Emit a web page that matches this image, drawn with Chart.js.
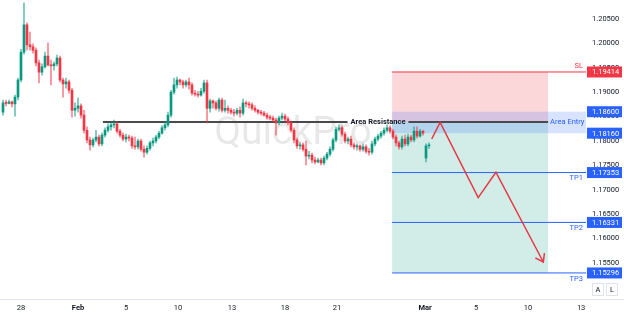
<!DOCTYPE html>
<html lang="en">

<head>
    <meta charset="UTF-8">
    <meta name="viewport" content="width=device-width, initial-scale=1.0">
    <title>EURUSD 4H - Area Resistance short</title>
    <script src="https://cdn.jsdelivr.net/npm/chart.js@4"></script>
    <style>
        html, body { margin: 0; padding: 0; background: #fff; }
    </style>
</head>

<body>
    <canvas id="myChart" width="624" height="316"></canvas>
    <script>
        // 4H candles, bar index 0 = first candle on the left
        const openS = [
            1.1859, 1.1878, 1.1877, 1.1880, 1.1876, 1.1890, 1.1925, 1.1982, 1.2038, 1.1997,
            1.1993, 1.1986, 1.1960, 1.1941, 1.1952, 1.1974, 1.1956, 1.1954, 1.1958, 1.1970,
            1.1925, 1.1917, 1.1921, 1.1904, 1.1863, 1.1867, 1.1872, 1.1853, 1.1822, 1.1802,
            1.1792, 1.1802, 1.1808, 1.1794, 1.1812, 1.1822, 1.1829, 1.1833, 1.1835, 1.1820,
            1.1812, 1.1804, 1.1808, 1.1806, 1.1790, 1.1788, 1.1800, 1.1783, 1.1777, 1.1785,
            1.1796, 1.1800, 1.1808, 1.1816, 1.1827, 1.1833, 1.1853, 1.1900, 1.1915, 1.1925,
            1.1921, 1.1915, 1.1921, 1.1915, 1.1898, 1.1896, 1.1894, 1.1902, 1.1919, 1.1867,
            1.1882, 1.1878, 1.1867, 1.1884, 1.1863, 1.1867, 1.1863, 1.1859, 1.1857, 1.1863,
            1.1857, 1.1878, 1.1876, 1.1874, 1.1867, 1.1863, 1.1859, 1.1857, 1.1853, 1.1849,
            1.1847, 1.1843, 1.1837, 1.1847, 1.1851, 1.1845, 1.1837, 1.1822, 1.1802, 1.1790,
            1.1792, 1.1783, 1.1769, 1.1771, 1.1761, 1.1757, 1.1761, 1.1755, 1.1765, 1.1773,
            1.1783, 1.1802, 1.1824, 1.1827, 1.1814, 1.1800, 1.1804, 1.1792, 1.1788, 1.1790,
            1.1783, 1.1788, 1.1779, 1.1777, 1.1794, 1.1804, 1.1810, 1.1816, 1.1822, 1.1827,
            1.1820, 1.1808, 1.1796, 1.1788, 1.1804, 1.1794, 1.1808, 1.1802, 1.1820, 1.1810,
            1.1820, 1.1765, 1.1790
        ];
        const highS = [
            1.1884, 1.1884, 1.1884, 1.1882, 1.1894, 1.1929, 1.1988, 1.2083, 1.2042, 1.2023,
            1.1999, 1.1991, 1.1966, 1.1958, 1.1982, 1.2001, 1.1966, 1.1962, 1.1976, 1.1974,
            1.1929, 1.1929, 1.1925, 1.1908, 1.1878, 1.1888, 1.1876, 1.1863, 1.1829, 1.1808,
            1.1806, 1.1822, 1.1812, 1.1816, 1.1827, 1.1835, 1.1837, 1.1843, 1.1839, 1.1824,
            1.1816, 1.1814, 1.1812, 1.1810, 1.1808, 1.1804, 1.1804, 1.1790, 1.1790, 1.1800,
            1.1806, 1.1812, 1.1820, 1.1831, 1.1839, 1.1859, 1.1904, 1.1929, 1.1931, 1.1927,
            1.1925, 1.1925, 1.1929, 1.1919, 1.1904, 1.1902, 1.1908, 1.1925, 1.1925, 1.1886,
            1.1884, 1.1882, 1.1888, 1.1888, 1.1884, 1.1872, 1.1867, 1.1865, 1.1867, 1.1870,
            1.1886, 1.1882, 1.1880, 1.1878, 1.1872, 1.1865, 1.1863, 1.1861, 1.1857, 1.1853,
            1.1851, 1.1847, 1.1851, 1.1857, 1.1855, 1.1849, 1.1841, 1.1827, 1.1806, 1.1798,
            1.1796, 1.1800, 1.1779, 1.1775, 1.1767, 1.1765, 1.1765, 1.1769, 1.1777, 1.1788,
            1.1806, 1.1829, 1.1833, 1.1831, 1.1818, 1.1808, 1.1810, 1.1796, 1.1794, 1.1792,
            1.1794, 1.1792, 1.1785, 1.1800, 1.1808, 1.1814, 1.1820, 1.1827, 1.1833, 1.1831,
            1.1824, 1.1812, 1.1800, 1.1810, 1.1812, 1.1814, 1.1812, 1.1829, 1.1829, 1.1824,
            1.1822, 1.1794, 1.1796
        ];
        const lowS = [
            1.1853, 1.1872, 1.1876, 1.1870, 1.1851, 1.1884, 1.1921, 1.1978, 1.1986, 1.1986,
            1.1980, 1.1954, 1.1919, 1.1935, 1.1949, 1.1954, 1.1915, 1.1945, 1.1954, 1.1921,
            1.1890, 1.1908, 1.1898, 1.1849, 1.1851, 1.1859, 1.1847, 1.1816, 1.1796, 1.1781,
            1.1788, 1.1798, 1.1790, 1.1790, 1.1808, 1.1818, 1.1822, 1.1827, 1.1816, 1.1808,
            1.1800, 1.1798, 1.1800, 1.1785, 1.1783, 1.1783, 1.1779, 1.1767, 1.1773, 1.1781,
            1.1790, 1.1796, 1.1804, 1.1814, 1.1822, 1.1829, 1.1849, 1.1896, 1.1908, 1.1915,
            1.1908, 1.1911, 1.1906, 1.1894, 1.1892, 1.1890, 1.1892, 1.1898, 1.1837, 1.1859,
            1.1867, 1.1863, 1.1861, 1.1859, 1.1859, 1.1857, 1.1855, 1.1851, 1.1853, 1.1849,
            1.1853, 1.1870, 1.1867, 1.1863, 1.1859, 1.1855, 1.1853, 1.1851, 1.1845, 1.1843,
            1.1839, 1.1812, 1.1833, 1.1843, 1.1841, 1.1833, 1.1818, 1.1796, 1.1785, 1.1783,
            1.1779, 1.1751, 1.1763, 1.1755, 1.1753, 1.1755, 1.1751, 1.1751, 1.1761, 1.1769,
            1.1779, 1.1798, 1.1820, 1.1810, 1.1796, 1.1794, 1.1788, 1.1783, 1.1781, 1.1779,
            1.1779, 1.1775, 1.1771, 1.1773, 1.1790, 1.1800, 1.1806, 1.1812, 1.1818, 1.1816,
            1.1804, 1.1790, 1.1783, 1.1783, 1.1790, 1.1790, 1.1798, 1.1798, 1.1806, 1.1808,
            1.1812, 1.1757, 1.1785
        ];
        const closeS = [
            1.1878, 1.1877, 1.1880, 1.1876, 1.1890, 1.1925, 1.1982, 1.2038, 1.1997, 1.1993,
            1.1986, 1.1960, 1.1941, 1.1952, 1.1974, 1.1956, 1.1954, 1.1958, 1.1970, 1.1925,
            1.1917, 1.1921, 1.1904, 1.1863, 1.1867, 1.1872, 1.1853, 1.1822, 1.1802, 1.1792,
            1.1802, 1.1808, 1.1794, 1.1812, 1.1822, 1.1829, 1.1833, 1.1835, 1.1820, 1.1812,
            1.1804, 1.1808, 1.1806, 1.1790, 1.1788, 1.1800, 1.1783, 1.1777, 1.1785, 1.1796,
            1.1800, 1.1808, 1.1816, 1.1827, 1.1833, 1.1853, 1.1900, 1.1915, 1.1925, 1.1921,
            1.1915, 1.1921, 1.1915, 1.1898, 1.1896, 1.1894, 1.1902, 1.1919, 1.1867, 1.1882,
            1.1878, 1.1867, 1.1884, 1.1863, 1.1867, 1.1863, 1.1859, 1.1857, 1.1863, 1.1857,
            1.1878, 1.1876, 1.1874, 1.1867, 1.1863, 1.1859, 1.1857, 1.1853, 1.1849, 1.1847,
            1.1843, 1.1837, 1.1847, 1.1851, 1.1845, 1.1837, 1.1822, 1.1802, 1.1790, 1.1792,
            1.1783, 1.1769, 1.1771, 1.1761, 1.1757, 1.1761, 1.1755, 1.1765, 1.1773, 1.1783,
            1.1802, 1.1824, 1.1827, 1.1814, 1.1800, 1.1804, 1.1792, 1.1788, 1.1790, 1.1783,
            1.1788, 1.1779, 1.1777, 1.1794, 1.1804, 1.1810, 1.1816, 1.1822, 1.1827, 1.1820,
            1.1808, 1.1796, 1.1788, 1.1804, 1.1794, 1.1808, 1.1802, 1.1820, 1.1810, 1.1820,
            1.1816, 1.1790, 1.1792
        ];

        // axis ticks (x positions are bar indexes)
        const xTickPos = [6, 25, 41, 58.3, 76.3, 94, 111.3, 140.7, 157.7, 175, 192.7];
        const xTickLabels = ['28', 'Feb', '5', '10', '13', '18', '21', 'Mar', '5', '10', '13'];
        const yTicks = [1.155, 1.16, 1.165, 1.17, 1.175, 1.18, 1.185, 1.19, 1.195, 1.2, 1.205];

        // trade plan levels
        const slLevel = 1.19414;
        const entryTop = 1.18600;
        const entryBottom = 1.18160;
        const resistance = 1.1839;
        const tpLevels = [1.17353, 1.16331, 1.15296];
        const tpNames = ['TP1', 'TP2', 'TP3'];
        const resStart = 33.3;
        const resLabelAt = 125;
        const boxStart = 129.7;
        const boxEnd = 181.7;

        // projected path (bar index, price)
        const pathX = [142.9, 145.7, 158.4, 164.3, 180.1];
        const pathY = [1.1804, 1.1838, 1.1684, 1.1736, 1.1552];

        const UP = '#089981';
        const DOWN = '#f23645';
        const BLUE = '#2962ff';
        const ARROW = '#e53945';
        const FONT = 'Roboto, "Liberation Sans", sans-serif';

        Chart.defaults.font.family = FONT;

        const idx = openS.map((_, i) => i);
        const candleColor = idx.map(i => closeS[i] >= openS[i] ? UP : DOWN);
        const wickColor = idx.map(i => closeS[i] >= openS[i] ? 'rgba(8,153,129,0.6)' : 'rgba(242,54,69,0.6)');

        function hline(ctx, x0, x1, y, color, w) {
            ctx.strokeStyle = color;
            ctx.lineWidth = w;
            ctx.beginPath();
            ctx.moveTo(x0, y);
            ctx.lineTo(x1, y);
            ctx.stroke();
        }

        const tradeDrawing = {
            id: 'tradeDrawing',
            beforeDatasetsDraw(chart) {
                const { ctx, chartArea: a, scales: { x, y } } = chart;
                ctx.save();
                ctx.beginPath();
                ctx.rect(a.left, a.top, a.width, a.height);
                ctx.clip();

                ctx.font = '39px ' + FONT;
                ctx.fillStyle = 'rgba(0,0,0,0.09)';
                ctx.textAlign = 'center';
                ctx.textBaseline = 'middle';
                ctx.fillText('QuickPro', (a.left + a.right) / 2, a.top + a.height * 0.45);

                const x0 = x.getPixelForValue(boxStart);
                const x1 = x.getPixelForValue(boxEnd);
                const ySL = y.getPixelForValue(slLevel);
                const yE = y.getPixelForValue(resistance);
                const yT = y.getPixelForValue(tpLevels[2]);
                ctx.fillStyle = 'rgba(242,54,69,0.2)';
                ctx.fillRect(x0, ySL, x1 - x0, yE - ySL);
                ctx.fillStyle = 'rgba(8,153,129,0.18)';
                ctx.fillRect(x0, yE, x1 - x0, yT - yE);

                const yA = y.getPixelForValue(entryTop);
                const yB = y.getPixelForValue(entryBottom);
                ctx.fillStyle = 'rgba(41,98,255,0.18)';
                ctx.fillRect(x0, yA, a.right - x0, yB - yA);

                hline(ctx, x0, a.right, ySL, DOWN, 1);
                tpLevels.forEach(v => hline(ctx, x0, a.right, y.getPixelForValue(v), BLUE, 1));

                ctx.font = 'bold 7.5px ' + FONT;
                const lx = x.getPixelForValue(resLabelAt);
                const tw = ctx.measureText('Area Resistance').width;
                hline(ctx, x.getPixelForValue(resStart), lx - tw / 2 - 3, yE, '#4a4a4a', 2);
                hline(ctx, lx + tw / 2 + 3, x1, yE, '#4a4a4a', 2);
                ctx.restore();
            },
            afterDatasetsDraw(chart) {
                const { ctx, chartArea: a, scales: { x, y } } = chart;
                ctx.save();
                const n = pathX.length;
                const tx = x.getPixelForValue(pathX[n - 1]);
                const ty = y.getPixelForValue(pathY[n - 1]);
                const px = x.getPixelForValue(pathX[n - 2]);
                const py = y.getPixelForValue(pathY[n - 2]);
                const ang = Math.atan2(ty - py, tx - px);
                ctx.strokeStyle = ARROW;
                ctx.lineWidth = 1.5;
                ctx.beginPath();
                ctx.moveTo(tx + 9 * Math.cos(ang + Math.PI - 0.61), ty + 9 * Math.sin(ang + Math.PI - 0.61));
                ctx.lineTo(tx, ty);
                ctx.lineTo(tx + 9 * Math.cos(ang + Math.PI + 0.61), ty + 9 * Math.sin(ang + Math.PI + 0.61));
                ctx.stroke();

                const yE = y.getPixelForValue(resistance);
                ctx.textBaseline = 'middle';
                ctx.textAlign = 'center';
                ctx.font = 'bold 7.5px ' + FONT;
                ctx.fillStyle = '#131722';
                ctx.fillText('Area Resistance', x.getPixelForValue(resLabelAt), yE);

                ctx.font = '7.5px ' + FONT;
                ctx.textAlign = 'left';
                ctx.fillStyle = BLUE;
                const yMid = (y.getPixelForValue(entryTop) + y.getPixelForValue(entryBottom)) / 2;
                ctx.fillText('Area Entry', x.getPixelForValue(boxEnd) + 2, yMid);

                ctx.textAlign = 'right';
                ctx.fillStyle = DOWN;
                ctx.fillText('SL', a.right - 3, y.getPixelForValue(slLevel) - 6);
                ctx.fillStyle = BLUE;
                tpLevels.forEach((v, i) => ctx.fillText(tpNames[i], a.right - 3, y.getPixelForValue(v) + 6));
                ctx.restore();
            },
            afterDraw(chart) {
                const { ctx, chartArea: a, scales: { y } } = chart;
                ctx.save();
                hline(ctx, 0, chart.width, a.bottom + 0.5, '#e0e3eb', 1);

                const tags = [[slLevel, DOWN], [entryTop, BLUE], [entryBottom, BLUE]]
                    .concat(tpLevels.map(v => [v, BLUE]));
                ctx.font = '7.5px ' + FONT;
                ctx.textBaseline = 'middle';
                ctx.textAlign = 'left';
                tags.forEach(([v, c]) => {
                    const py = y.getPixelForValue(v);
                    ctx.fillStyle = c;
                    ctx.fillRect(a.right + 1, py - 5.5, 35, 11);
                    ctx.fillStyle = '#fff';
                    ctx.fillText(v.toFixed(5), a.right + 6, py + 0.5);
                });

                // A / L buttons
                ['A', 'L'].forEach((t, i) => {
                    const bx = chart.width - 32 + i * 14;
                    const by = a.bottom - 16;
                    ctx.strokeStyle = '#e0e3eb';
                    ctx.lineWidth = 1;
                    ctx.strokeRect(bx + 0.5, by + 0.5, 11, 12);
                    ctx.fillStyle = '#131722';
                    ctx.textAlign = 'center';
                    ctx.fillText(t, bx + 6, by + 7);
                });
                ctx.restore();
            }
        };

        const ctx = document.getElementById('myChart').getContext('2d');
        const myChart = new Chart(ctx, {
            type: 'bar',
            data: {
                datasets: [{
                    label: 'wicks',
                    data: idx.map(i => ({ x: i, y: [lowS[i], highS[i]] })),
                    backgroundColor: wickColor,
                    barThickness: 1,
                    grouped: false,
                    order: 3
                }, {
                    label: 'bodies',
                    data: idx.map(i => ({ x: i, y: [openS[i], closeS[i]] })),
                    backgroundColor: candleColor,
                    barThickness: 2,
                    minBarLength: 1,
                    grouped: false,
                    order: 2
                }, {
                    type: 'line',
                    label: 'path',
                    data: pathX.map((v, i) => ({ x: v, y: pathY[i] })),
                    borderColor: ARROW,
                    borderWidth: 1.5,
                    pointRadius: 0,
                    tension: 0,
                    order: 1
                }]
            },
            options: {
                responsive: false,
                animation: false,
                events: [],
                layout: { padding: 0 },
                plugins: {
                    legend: { display: false },
                    tooltip: { enabled: false }
                },
                scales: {
                    x: {
                        type: 'linear',
                        min: -1,
                        max: 194.33,
                        offset: false,
                        grid: { display: false, drawTicks: false },
                        border: { display: false },
                        afterBuildTicks: s => { s.ticks = xTickPos.map(v => ({ value: v })); },
                        afterFit: s => { s.height = 17; s.paddingLeft = 0; s.paddingRight = 0; },
                        ticks: {
                            autoSkip: false,
                            maxRotation: 0,
                            padding: 5,
                            color: '#131722',
                            font: c => ({
                                size: 7.5,
                                weight: (c.tick && (c.tick.label === 'Feb' || c.tick.label === 'Mar')) ? 'bold' : 'normal'
                            }),
                            callback: (v, i) => xTickLabels[i]
                        }
                    },
                    y: {
                        type: 'linear',
                        position: 'right',
                        min: 1.14762,
                        max: 1.20889,
                        grid: { display: false, drawTicks: false },
                        border: { display: false },
                        afterBuildTicks: s => { s.ticks = yTicks.map(v => ({ value: v })); },
                        afterFit: s => { s.width = 38; s.paddingTop = 0; s.paddingBottom = 0; },
                        ticks: {
                            padding: 6,
                            color: '#131722',
                            font: { size: 7.5 },
                            callback: v => v.toFixed(5)
                        }
                    }
                }
            },
            plugins: [tradeDrawing]
        });
    </script>
</body>
</html>
